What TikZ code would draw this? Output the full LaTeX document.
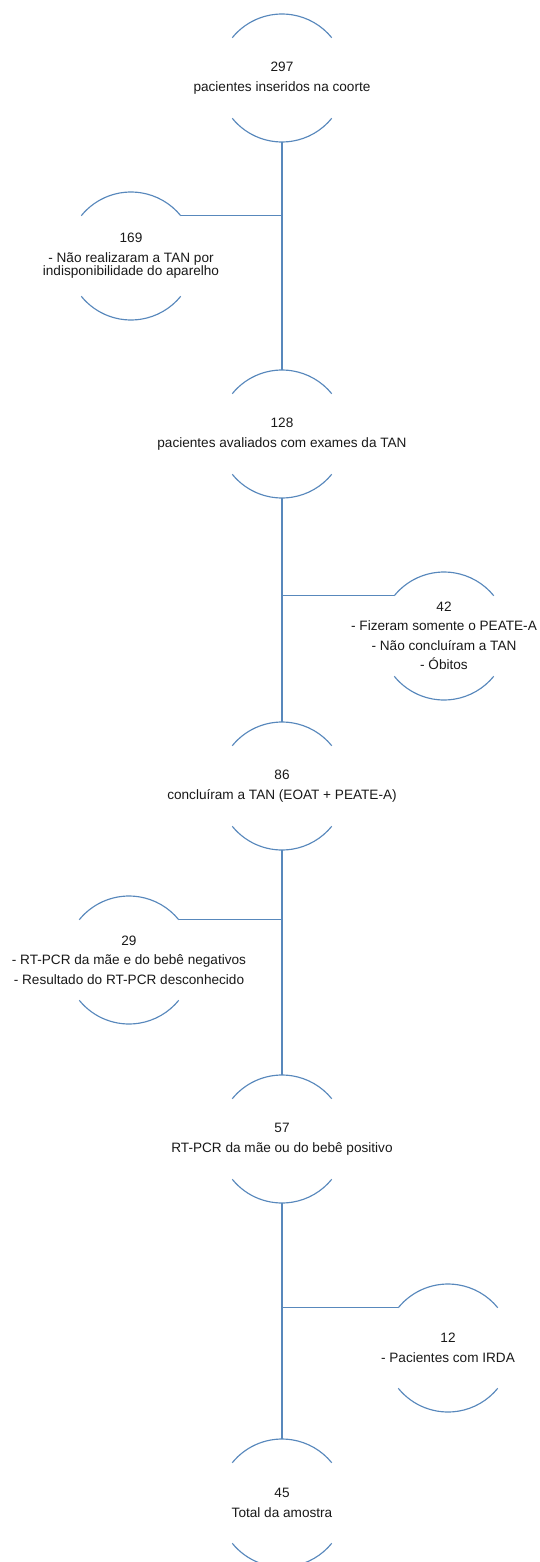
\documentclass[tikz,border=0pt]{standalone}
\usepackage{fontspec}
\setmainfont{Liberation Sans}
\definecolor{lineblue}{RGB}{88,136,188}
\begin{document}
\begin{tikzpicture}[x=1pt,y=1pt]
\tikzset{
  ring/.style={circle, minimum size=128pt, inner sep=0pt, outer sep=0pt},
  txt/.style={font=\fontsize{13.6}{19.5}\selectfont, align=center, text=black!90, inner sep=0pt},
  arcline/.style={draw=lineblue, line width=1.15pt},
  link/.style={draw=lineblue, line width=1.15pt},
}
\useasboundingbox (0,0) rectangle (539,-1562);
\clip (0,0) rectangle (539,-1562);
% ring placeholders
\node[ring] (n297) at (282,-78) {};
\node[ring] (n169) at (131,-256) {};
\node[ring] (n128) at (282,-434) {};
\node[ring] (n42)  at (444,-636) {};
\node[ring] (n86)  at (282,-786) {};
\node[ring] (n29)  at (129,-960) {};
\node[ring] (n57)  at (282,-1139) {};
\node[ring] (n12)  at (448,-1348) {};
\node[ring] (n45)  at (282,-1503) {};
% texts
\node[txt] (t297) at (n297) {297\\pacientes inseridos na coorte};
\node[txt] (t169) at (n169) {169\\- Não realizaram a TAN por\\[-6pt]indisponibilidade do aparelho};
\node[txt] (t128) at (n128) {128\\pacientes avaliados com exames da TAN};
\node[txt] (t42)  at (n42)  {42\\- Fizeram somente o PEATE-A\\- Não concluíram a TAN\\- Óbitos};
\node[txt] (t86)  at (n86)  {86\\concluíram a TAN (EOAT + PEATE-A)};
\node[txt] (t29)  at (n29)  {29\\- RT-PCR da mãe e do bebê negativos\\- Resultado do RT-PCR desconhecido};
\node[txt] (t57)  at (n57)  {57\\RT-PCR da mãe ou do bebê positivo};
\node[txt] (t12)  at (n12)  {12\\- Pacientes com IRDA};
\node[txt] (t45)  at (n45)  {45\\Total da amostra};
% arcs
\foreach \n in {n297,n169,n128,n42,n86,n29,n57,n12,n45}{
  \draw[arcline] (\n.141) arc[start angle=141, end angle=39, radius=64pt];
  \draw[arcline] (\n.-141) arc[start angle=-141, end angle=-39, radius=64pt];
}
% connectors
\draw[link] (n297.south) -- (n128.north);
\draw[link] (n169.39) -- (n169.39 -| n297.south);
\draw[link] (n128.south) -- (n86.north);
\draw[link] (n42.141) -- (n42.141 -| n128.south);
\draw[link] (n86.south) -- (n57.north);
\draw[link] (n29.39) -- (n29.39 -| n86.south);
\draw[link] (n57.south) -- (n45.north);
\draw[link] (n12.141) -- (n12.141 -| n57.south);
\end{tikzpicture}
\end{document}
